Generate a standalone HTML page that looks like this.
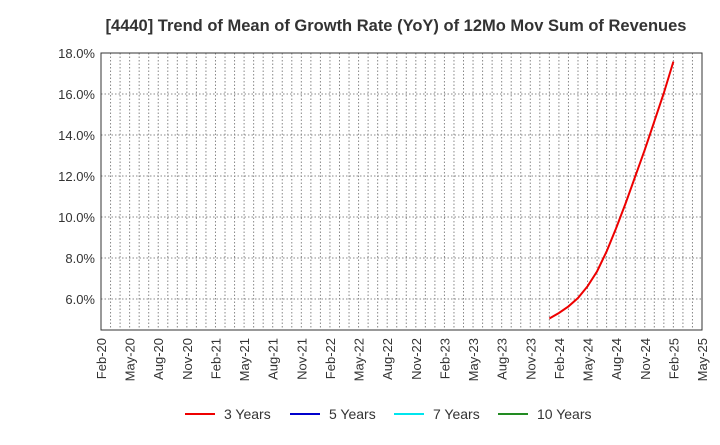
<!DOCTYPE html>
<html><head><meta charset="utf-8"><style>
body{margin:0;background:#fff;font-family:"Liberation Sans",sans-serif}
</style></head><body>
<svg id="c" width="720" height="440" xmlns="http://www.w3.org/2000/svg" font-family="Liberation Sans, sans-serif">
<text x="396" y="31" text-anchor="middle" font-size="16.5" font-weight="bold" fill="#333">[4440]  Trend of Mean of Growth Rate (YoY) of 12Mo Mov Sum of Revenues</text>
<g id="grid"></g><g id="axes"></g><g id="series"></g>
<g font-size="14" fill="#333">
<line x1="185" y1="414" x2="215" y2="414" stroke="#e00" stroke-width="2"/><text x="224" y="419">3 Years</text>
<line x1="290" y1="414" x2="320" y2="414" stroke="#0000cc" stroke-width="2"/><text x="329" y="419">5 Years</text>
<line x1="394" y1="414" x2="424" y2="414" stroke="#00e5ee" stroke-width="2"/><text x="433" y="419">7 Years</text>
<line x1="498" y1="414" x2="528" y2="414" stroke="#228b22" stroke-width="2"/><text x="537" y="419">10 Years</text>
</g>
</svg>
<script>
const yTicks=[6,8,10,12,14,16,18];
const xLabels=["Feb-20","May-20","Aug-20","Nov-20","Feb-21","May-21","Aug-21","Nov-21","Feb-22","May-22","Aug-22","Nov-22","Feb-23","May-23","Aug-23","Nov-23","Feb-24","May-24","Aug-24","Nov-24","Feb-25","May-25"];
const months3=[47,48,49,50,51,52,53,54,55,56,57,58,59,60];
const values3=[5.05,5.32,5.64,6.05,6.62,7.35,8.32,9.46,10.68,11.98,13.28,14.66,16.05,17.58];
const L=101,R=702,T=53,B=330,NM=63,YMIN=4.49,YMAX=18;
const xs=m=>L+(R-L)*m/NM;
const ys=v=>B-(B-T)*(v-YMIN)/(YMAX-YMIN);
const NS="http://www.w3.org/2000/svg";
function mk(t,a,p){const e=document.createElementNS(NS,t);for(const k in a)e.setAttribute(k,a[k]);p.appendChild(e);return e;}
const g=document.getElementById('grid'),ax=document.getElementById('axes'),se=document.getElementById('series');
for(let m=1;m<NM;m++){const l=mk('line',{x1:xs(m),x2:xs(m),y1:T,y2:B,stroke:'#888','stroke-dasharray':'1.5,2','stroke-width':1},g);

}
yTicks.forEach(v=>{const l=mk('line',{x1:L,x2:R,y1:ys(v),y2:ys(v),stroke:'#888','stroke-dasharray':'1.5,2'},g);


const t=mk('text',{x:L-6,y:ys(v)+5,'text-anchor':'end','font-size':13,fill:'#333'},ax);t.textContent=v.toFixed(1)+'%';

});
xLabels.forEach((s,i)=>{const x=xs(i*3);const t=mk('text',{x:0,y:0,'text-anchor':'end','font-size':13,fill:'#333',transform:`translate(${x+5},${B+8}) rotate(-90)`},ax);t.textContent=s;

});
const r=mk('rect',{x:L,y:T,width:R-L,height:B-T,fill:'none',stroke:'#333','stroke-width':1},ax);


const p=mk('polyline',{points:months3.map((m,i)=>xs(m)+','+ys(values3[i])).join(' '),fill:'none',stroke:'#e00','stroke-width':2},se);


</script>
</body></html>
